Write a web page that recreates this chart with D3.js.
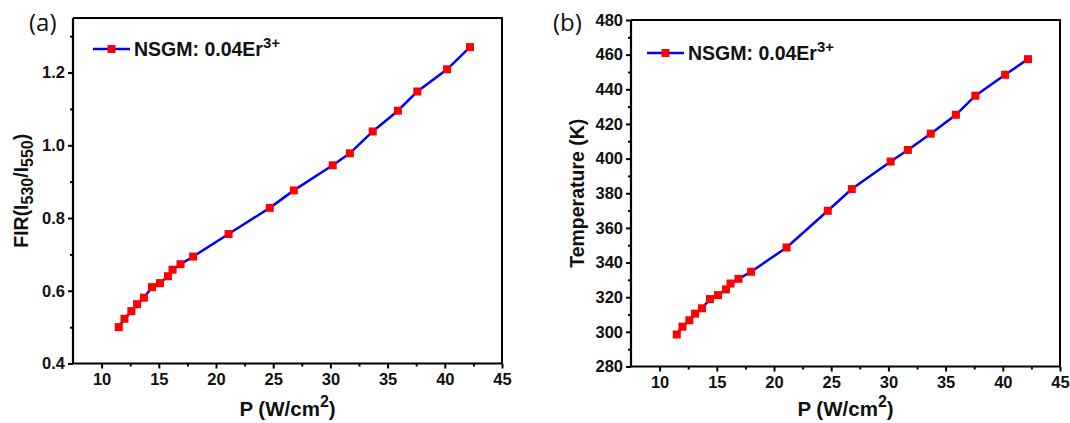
<!DOCTYPE html>
<html><head><meta charset="utf-8">
<script src="https://cdn.jsdelivr.net/npm/d3@7"></script>
<style>
html,body{margin:0;padding:0;background:#fff;}
svg{display:block;}
</style></head>
<body>
<svg id="chart" width="1070" height="423"></svg>
<script>
// ---- data ----
const power = [11.5, 12.0, 12.6, 13.1, 13.7, 14.4, 15.1, 15.8, 16.2, 16.9, 18.0, 21.1, 24.7, 26.8, 30.2, 31.7, 33.7, 35.9, 37.6, 40.2, 42.2];
const fir = [0.50, 0.523, 0.544, 0.563, 0.581, 0.610, 0.621, 0.640, 0.658, 0.673, 0.694, 0.756, 0.828, 0.876, 0.945, 0.978, 1.038, 1.095, 1.148, 1.209, 1.270];
const temperature = [298.5, 303, 306.7, 310.5, 313.6, 318.9, 321.2, 324.5, 327.9, 330.6, 334.7, 348.7, 369.9, 382.4, 398.3, 405, 414.4, 425.3, 436.3, 448.4, 457.4];
const xTicks = [10, 15, 20, 25, 30, 35, 40, 45];
const xMinor = [12.5, 17.5, 22.5, 27.5, 32.5, 37.5, 42.5];
const firTicks = [0.4, 0.6, 0.8, 1.0, 1.2];
const firMinor = [0.5, 0.7, 0.9, 1.1, 1.3];
const tempTicks = [280, 300, 320, 340, 360, 380, 400, 420, 440, 460, 480];
const tempMinor = [290, 310, 330, 350, 370, 390, 410, 430, 450, 470];
const legendLabel = "NSGM: 0.04Er";
const legendSup = "3+";

const svg = d3.select("#chart");
const FONT = "'Liberation Sans', Arial, sans-serif";

function panel(cfg) {
  const g = svg.append("g");
  const x = d3.scaleLinear().domain([7.5, 45]).range([cfg.left, cfg.right]);
  const y = d3.scaleLinear().domain(cfg.yDomain).range([cfg.bottom, cfg.top]);

  // frame (top and right)
  g.append("path")
    .attr("d", `M${cfg.left},${cfg.top}H${cfg.right}V${cfg.bottom}`)
    .attr("fill", "none").attr("stroke", "#000").attr("stroke-width", 2);

  // minor ticks
  g.append("g").attr("transform", `translate(0,${cfg.bottom})`)
    .call(d3.axisBottom(x).tickValues(xMinor).tickSize(3).tickFormat(""))
    .call(s => s.select(".domain").remove())
    .call(s => s.selectAll("line").attr("stroke-width", 2));
  g.append("g").attr("transform", `translate(${cfg.left},0)`)
    .call(d3.axisLeft(y).tickValues(cfg.yMinor).tickSize(3).tickFormat(""))
    .call(s => s.select(".domain").remove())
    .call(s => s.selectAll("line").attr("stroke-width", 2));

  // major axes
  const xa = g.append("g").attr("transform", `translate(0,${cfg.bottom})`)
    .call(d3.axisBottom(x).tickValues(xTicks).tickSize(5).tickSizeOuter(0).tickPadding(5).tickFormat(d3.format("d")));
  const ya = g.append("g").attr("transform", `translate(${cfg.left},0)`)
    .call(d3.axisLeft(y).tickValues(cfg.yTicks).tickSize(5).tickSizeOuter(0).tickPadding(3).tickFormat(cfg.fmt));
  [xa, ya].forEach(a => {
    a.select(".domain").attr("stroke-width", 2.2);
    a.selectAll("line").attr("stroke-width", 2);
    a.selectAll("text").attr("font-family", FONT).attr("font-weight", "bold")
      .attr("font-size", 16.5).attr("fill", "#111");
  });
  xa.select(".domain").attr("d", `M${cfg.left},0H${cfg.right}`);
  ya.select(".domain").attr("d", `M0,${cfg.bottom}V${cfg.top}`);

  // line + markers
  const vals = cfg.values;
  const line = d3.line().x((d, i) => x(power[i])).y(d => y(d));
  g.append("path").datum(vals).attr("d", line)
    .attr("fill", "none").attr("stroke", "#0000ff").attr("stroke-width", 2.5);
  const ms = 8;
  g.selectAll("rect.pt").data(vals).join("rect").attr("class", "pt")
    .attr("x", (d, i) => x(power[i]) - ms / 2).attr("y", d => y(d) - ms / 2)
    .attr("width", ms).attr("height", ms).attr("fill", "#ff0000");

  // legend
  const lg = g.append("g");
  lg.append("line").attr("x1", cfg.legX).attr("x2", cfg.legX + 37)
    .attr("y1", cfg.legY).attr("y2", cfg.legY)
    .attr("stroke", "#0000ff").attr("stroke-width", 2.5);
  lg.append("rect").attr("x", cfg.legX + 18.5 - ms / 2).attr("y", cfg.legY - ms / 2)
    .attr("width", ms).attr("height", ms).attr("fill", "#ff0000");
  const lt = lg.append("text").attr("x", cfg.legX + 41).attr("y", cfg.legY + 7)
    .attr("font-family", FONT).attr("font-weight", "bold").attr("font-size", 19.5).attr("fill", "#111");
  lt.append("tspan").text(legendLabel);
  lt.append("tspan").attr("dy", -8).attr("font-size", 15).text(legendSup);

  // panel label
  g.append("text").attr("x", cfg.tagX).attr("y", 31)
    .attr("font-family", "'Open Sans', 'Liberation Sans', sans-serif").attr("font-size", 24)
    .attr("fill", "#111").text(cfg.tag);

  // x title
  const xt = g.append("text").attr("x", (cfg.left + cfg.right) / 2).attr("y", 416)
    .attr("text-anchor", "middle").attr("font-family", FONT).attr("font-weight", "bold")
    .attr("font-size", 20.5).attr("fill", "#111");
  xt.append("tspan").text("P (W/cm");
  xt.append("tspan").attr("dy", -9).attr("font-size", 16).text("2");
  xt.append("tspan").attr("dy", 9).text(")");

  // y title
  const yt = g.append("text")
    .attr("transform", `translate(${cfg.yTitleX},${(cfg.top + cfg.bottom) / 2}) rotate(-90)`)
    .attr("text-anchor", "middle").attr("font-family", FONT).attr("font-weight", "bold")
    .attr("font-size", 19.5).attr("fill", "#111");
  cfg.yTitle(yt);
}

panel({
  left: 73, right: 502, top: 18, bottom: 363.5,
  yDomain: [0.4, 1.35], yTicks: firTicks, yMinor: firMinor, fmt: d3.format(".1f"),
  values: fir, legX: 93, legY: 49, tag: "(a)", tagX: 29, yTitleX: 28,
  yTitle: t => {
    t.append("tspan").text("FIR(I");
    t.append("tspan").attr("dy", 5).attr("font-size", 16).text("530");
    t.append("tspan").attr("dy", -5).text("/I");
    t.append("tspan").attr("dy", 5).attr("font-size", 16).text("550");
    t.append("tspan").attr("dy", -5).text(")");
  }
});
panel({
  left: 631, right: 1060, top: 20, bottom: 366.5,
  yDomain: [280, 480], yTicks: tempTicks, yMinor: tempMinor, fmt: d3.format("d"),
  values: temperature, legX: 647, legY: 53, tag: "(b)", tagX: 553, yTitleX: 584,
  yTitle: t => { t.text("Temperature (K)"); }
});
</script>
</body></html>
